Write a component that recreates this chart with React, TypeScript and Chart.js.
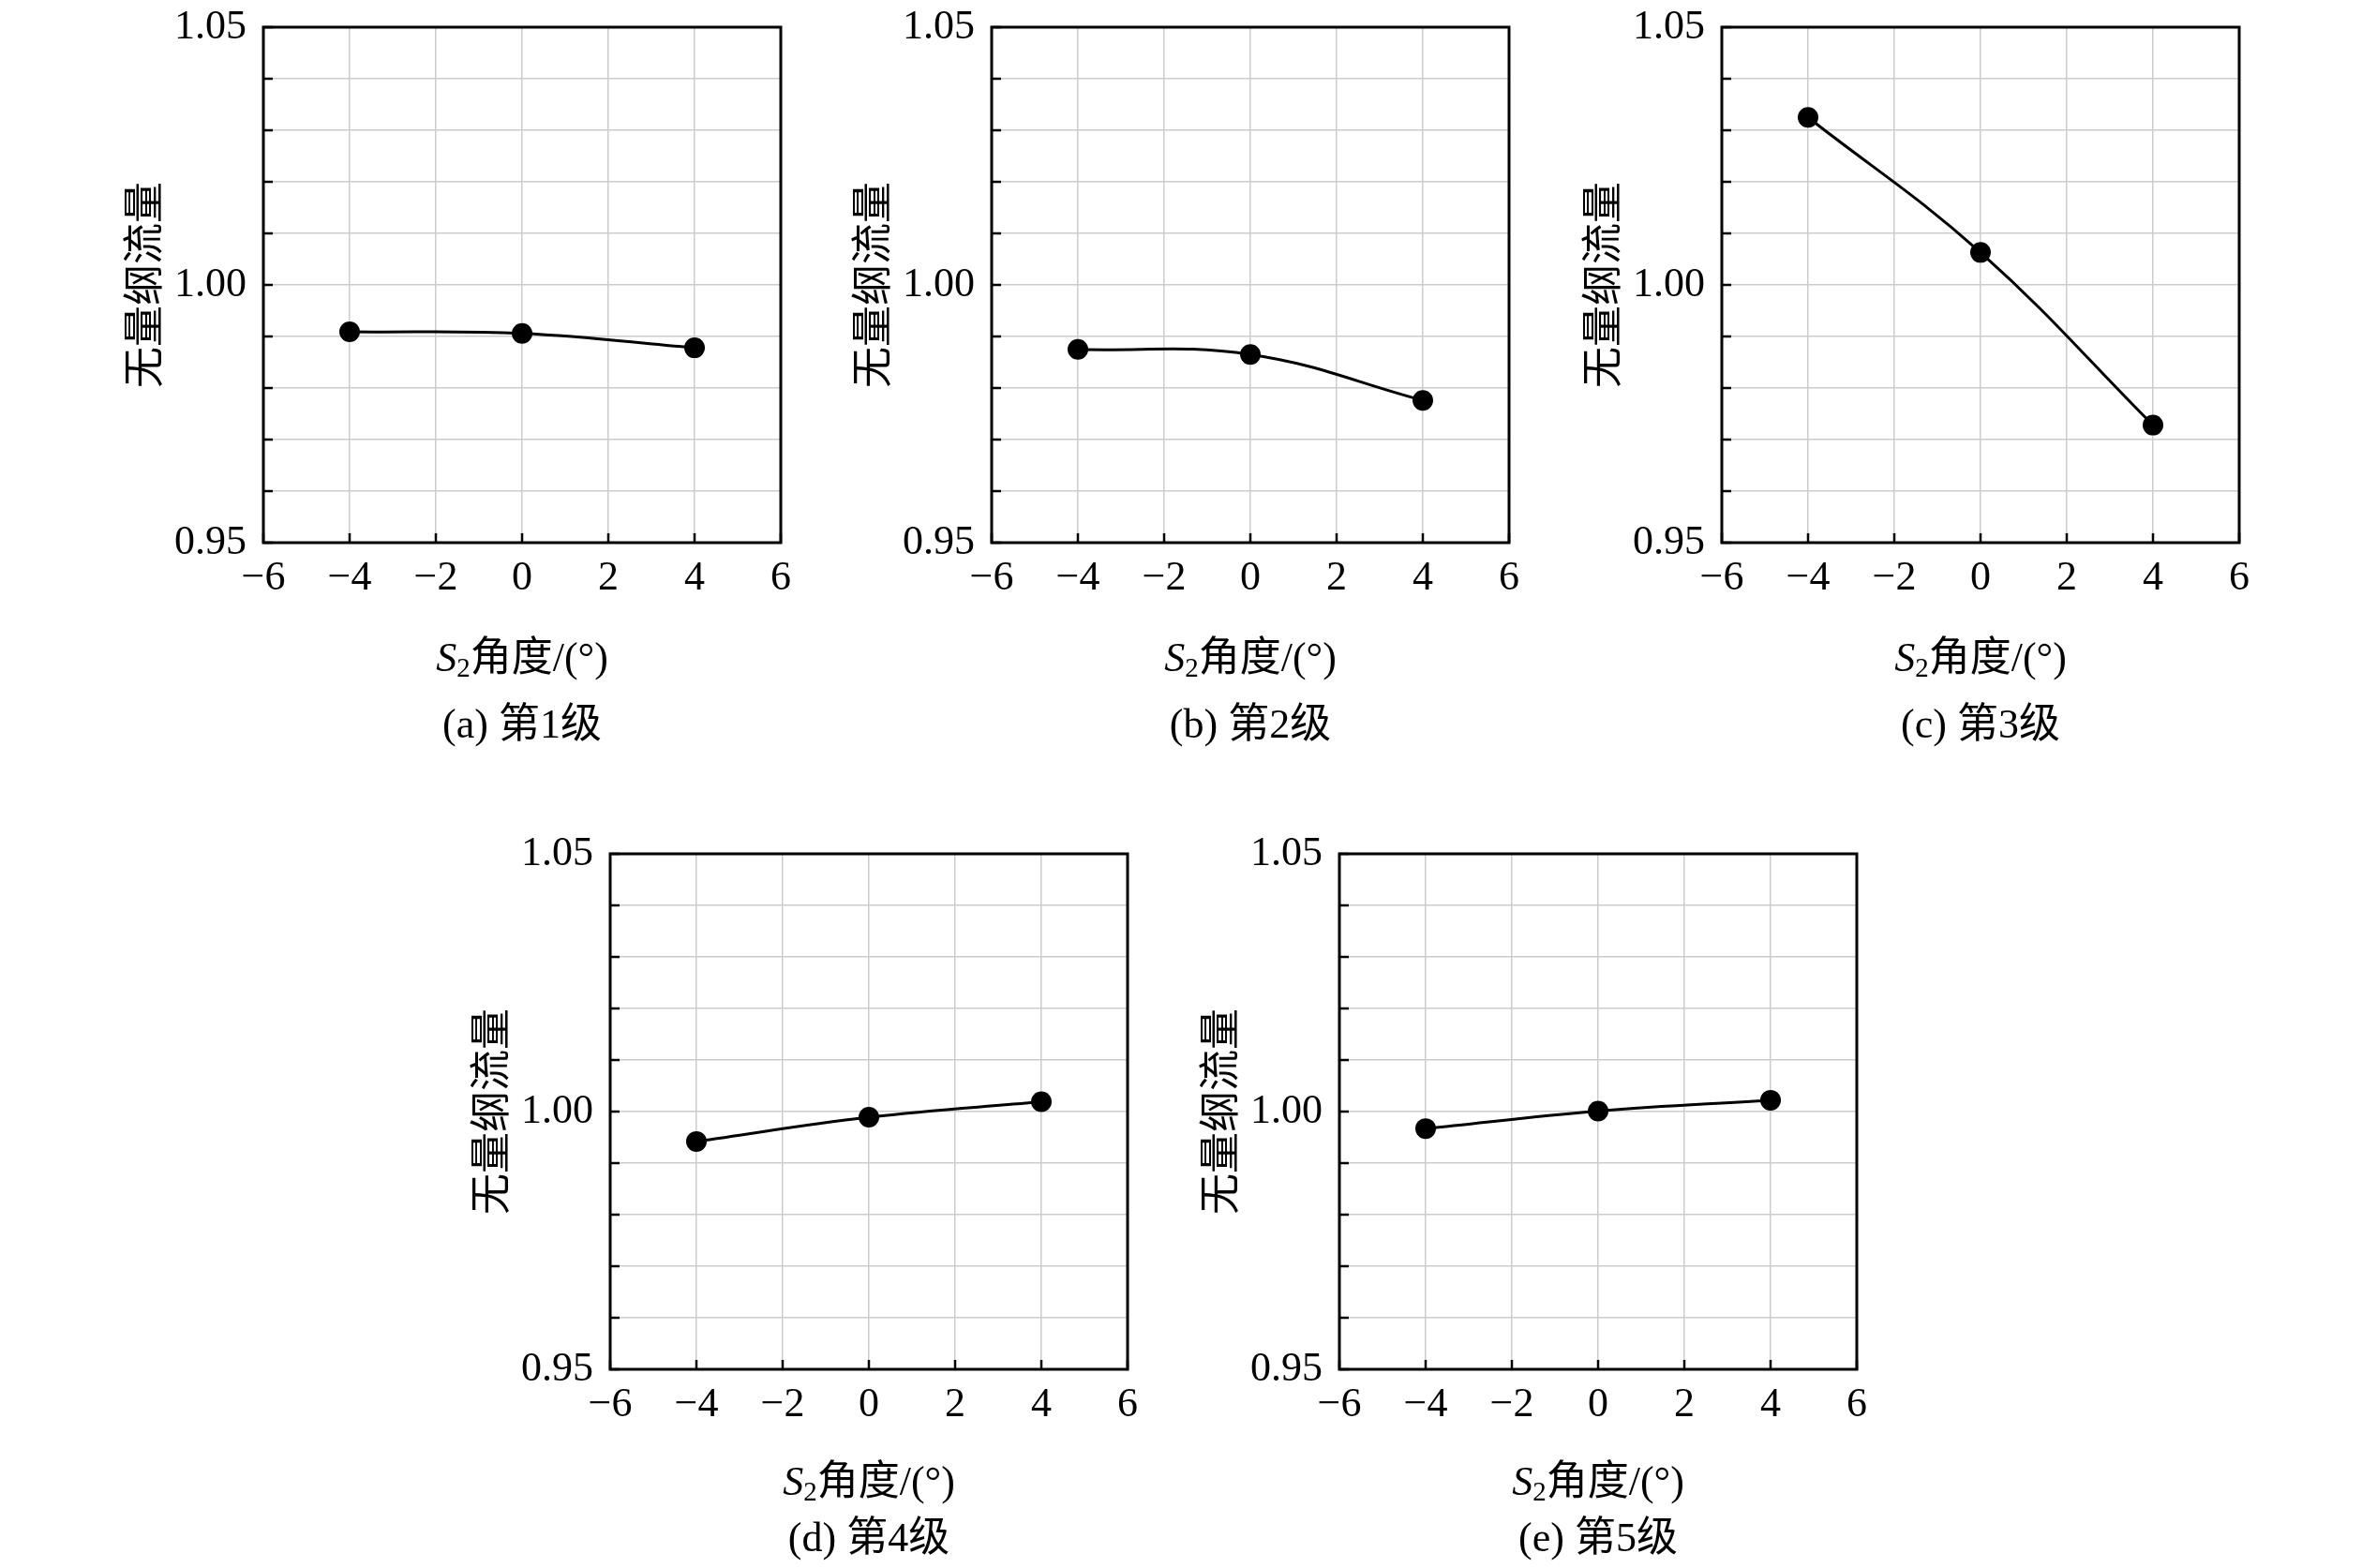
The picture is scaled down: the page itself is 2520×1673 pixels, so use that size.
import { useEffect, useRef } from 'react';
import Chart from 'chart.js/auto';

// Five small panels: dimensionless mass flow vs S2 blade angle, stages 1-5.
const ANGLES = [-4, 0, 4];
const STAGE_1 = [0.9909, 0.9906, 0.9878];
const STAGE_2 = [0.9875, 0.9865, 0.9776];
const STAGE_3 = [1.0325, 1.0063, 0.9728];
const STAGE_4 = [0.9942, 0.9989, 1.0019];
const STAGE_5 = [0.9967, 1.0001, 1.0022];
const CAPTIONS = ['(a) 第1级', '(b) 第2级', '(c) 第3级', '(d) 第4级', '(e) 第5级'];
const Y_LABEL = '无量纲流量';
const X_LABEL = '角度/(°)';
const X_MIN = -6;
const X_MAX = 6;
const Y_MIN = 0.95;
const Y_MAX = 1.05;

const FONT = '"Liberation Serif", "Noto Sans CJK SC", serif';
const GRID = '#cccccc';

// plot-area boxes on the page: left, top, title / caption offsets below the plot
const PANELS = [
  { values: STAGE_1, left: 281, top: 29, title: 125, cap: 196 },
  { values: STAGE_2, left: 1058, top: 29, title: 125, cap: 196 },
  { values: STAGE_3, left: 1837, top: 29, title: 125, cap: 196 },
  { values: STAGE_4, left: 651, top: 911, title: 122, cap: 182 },
  { values: STAGE_5, left: 1429, top: 911, title: 122, cap: 182 },
];
const PLOT_W = 552;
const PLOT_H = 550;
const AXIS_W = 220;
const PAD_TOP = 29;
const PAD_RIGHT = 40;
const BOTTOM_H = 230;

const minus = (v: number) => (v < 0 ? '\u2212' + Math.abs(v) : String(v));

type PanelProps = { values: number[]; caption: string; titleOffset: number; capOffset: number };

function Panel({ values, caption, titleOffset, capOffset }: PanelProps) {
  const canvasRef = useRef<HTMLCanvasElement | null>(null);

  useEffect(() => {
    const ctx = canvasRef.current;
    if (!ctx) return;

    const frame = {
      id: 'frame',
      afterDraw(chart: Chart) {
        const { ctx: c, chartArea: a, scales } = chart;
        const x = scales.x;
        const y = scales.y;
        c.save();
        c.strokeStyle = '#000';
        c.lineWidth = 3;
        c.strokeRect(a.left, a.top, a.right - a.left, a.bottom - a.top);
        // inward ticks, left and bottom only
        c.lineWidth = 2.5;
        c.beginPath();
        y.ticks.forEach((t) => {
          const py = y.getPixelForValue(t.value);
          c.moveTo(a.left, py);
          c.lineTo(a.left + 10, py);
        });
        x.ticks.forEach((t) => {
          const px = x.getPixelForValue(t.value);
          c.moveTo(px, a.bottom);
          c.lineTo(px, a.bottom - 10);
        });
        c.stroke();

        c.fillStyle = '#000';
        c.textBaseline = 'middle';
        // y title
        c.save();
        c.translate(a.left - 124, (a.top + a.bottom) / 2);
        c.rotate(-Math.PI / 2);
        c.textAlign = 'center';
        c.font = `44px ${FONT}`;
        c.fillText(Y_LABEL, 0, 0);
        c.restore();

        // x title: italic S, subscript 2, then the rest
        const cx = (a.left + a.right) / 2;
        const ty = a.bottom + titleOffset;
        c.textAlign = 'left';
        c.font = `italic 44px ${FONT}`;
        const wS = c.measureText('S').width;
        c.font = `29px ${FONT}`;
        const w2 = c.measureText('2').width;
        c.font = `44px ${FONT}`;
        const wR = c.measureText(X_LABEL).width;
        let sx = cx - (wS + w2 + wR) / 2;
        c.font = `italic 44px ${FONT}`;
        c.fillText('S', sx, ty);
        sx += wS;
        c.font = `29px ${FONT}`;
        c.fillText('2', sx, ty + 10);
        sx += w2;
        c.font = `44px ${FONT}`;
        c.fillText(X_LABEL, sx, ty);

        // caption
        c.textAlign = 'center';
        c.fillText(caption, cx, a.bottom + capOffset);
        c.restore();
      },
    };

    const chart = new Chart(ctx, {
      type: 'line',
      data: {
        datasets: [
          {
            data: ANGLES.map((a, i) => ({ x: a, y: values[i] })),
            borderColor: '#000',
            backgroundColor: '#000',
            borderWidth: 3,
            tension: 0.4,
            pointRadius: 11,
            pointBorderWidth: 0,
            pointBackgroundColor: '#000',
            clip: false,
          },
        ],
      },
      options: {
        responsive: false,
        animation: false,
        devicePixelRatio: 1,
        layout: { padding: { left: 0, top: PAD_TOP, right: PAD_RIGHT, bottom: 0 } },
        plugins: { legend: { display: false }, tooltip: { enabled: false } },
        scales: {
          x: {
            type: 'linear',
            min: X_MIN,
            max: X_MAX,
            afterFit: (s) => {
              s.height = BOTTOM_H;
            },
            ticks: {
              stepSize: 2,
              color: '#000',
              padding: 0,
              maxRotation: 0,
              font: { family: FONT, size: 44 },
              callback: (v) => minus(Number(v)),
            },
            // invisible tick stubs act as the label gap
            grid: { color: GRID, lineWidth: 1.5, drawTicks: true, tickLength: 12, tickColor: 'rgba(0,0,0,0)' },
            border: { display: false },
          },
          y: {
            type: 'linear',
            min: Y_MIN,
            max: Y_MAX,
            afterFit: (s) => {
              s.width = AXIS_W;
            },
            ticks: {
              stepSize: 0.01,
              autoSkip: false,
              color: '#000',
              padding: 0,
              font: { family: FONT, size: 44 },
              callback: (v) => (Math.round(Number(v) * 100) % 5 === 0 ? Number(v).toFixed(2) : ''),
            },
            grid: { color: GRID, lineWidth: 1.5, drawTicks: true, tickLength: 18, tickColor: 'rgba(0,0,0,0)' },
            border: { display: false },
          },
        },
      },
      plugins: [frame],
    });
    return () => chart.destroy();
  }, [values, caption, titleOffset, capOffset]);

  return (
    <canvas
      ref={canvasRef}
      width={AXIS_W + PLOT_W + PAD_RIGHT}
      height={PAD_TOP + PLOT_H + BOTTOM_H}
    />
  );
}

export default function App() {
  return (
    <div style={{ position: 'fixed', left: 0, top: 0, width: 2520, height: 1673, background: '#fff' }}>
      {PANELS.map((p, i) => (
        <div
          key={i}
          style={{ position: 'absolute', left: p.left - AXIS_W, top: p.top - PAD_TOP }}
        >
          <Panel values={p.values} caption={CAPTIONS[i]} titleOffset={p.title} capOffset={p.cap} />
        </div>
      ))}
    </div>
  );
}
